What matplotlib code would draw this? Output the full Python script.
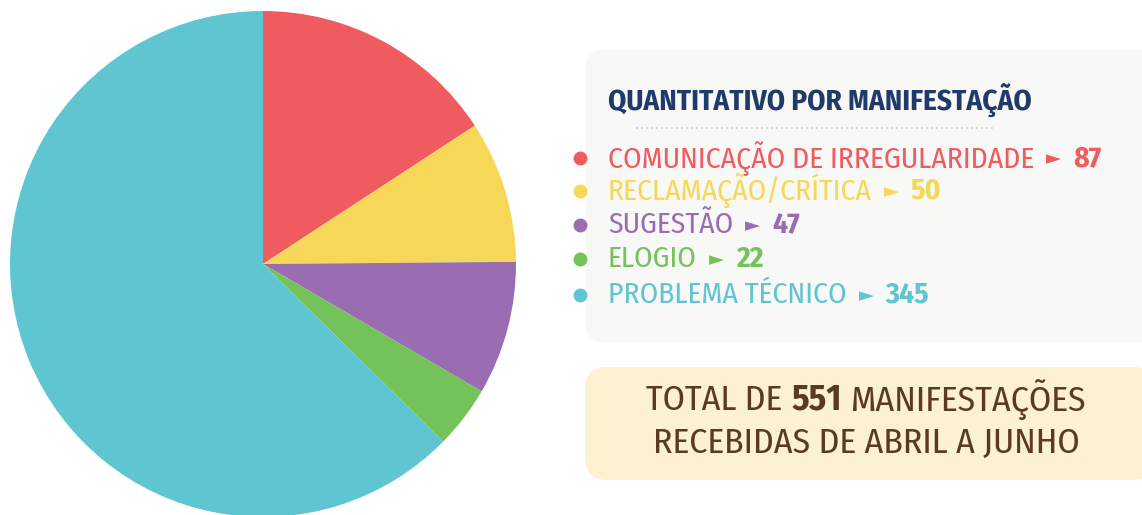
import matplotlib
matplotlib.use("Agg")
import matplotlib.pyplot as plt
from matplotlib.patches import FancyBboxPatch
from matplotlib import font_manager

categories = ["COMUNICAÇÃO DE IRREGULARIDADE", "RECLAMAÇÃO/CRÍTICA", "SUGESTÃO", "ELOGIO", "PROBLEMA TÉCNICO"]
values = [87, 50, 47, 22, 345]
colors = ["#ef5b5f", "#f7d757", "#9a6db3", "#74c35a", "#5fc6d1"]
title = "QUANTITATIVO POR MANIFESTAÇÃO"
total_line1 = ["TOTAL DE", "551", "MANIFESTAÇÕES"]
total_line2 = "RECEBIDAS DE ABRIL A JUNHO"

available = {f.name for f in font_manager.fontManager.ttflist}
prefs = ["Fira Sans Condensed", "Encode Sans Condensed", "Barlow Semi Condensed",
         "IBM Plex Sans Condensed", "Roboto Condensed", "Open Sans Condensed", "DejaVu Sans"]
main_font = next(f for f in prefs if f in available)
FONT = [main_font, "DejaVu Sans"]
plt.rcParams['font.family'] = FONT

W, H = 1142, 515
fig = plt.figure(figsize=(W / 100, H / 100), dpi=100)
fig.patch.set_facecolor("white")

bg = fig.add_axes([0, 0, 1, 1], zorder=0)
bg.set_xlim(0, W)
bg.set_ylim(H, 0)
bg.axis("off")

cx, cy, r = 263, 264, 253
pax = fig.add_axes([(cx - r) / W, (H - cy - r) / H, 2 * r / W, 2 * r / H], zorder=1)
pax.pie(values, colors=colors, startangle=90, counterclock=False,
        wedgeprops=dict(linewidth=0))
pax.set_xlim(-1, 1)
pax.set_ylim(-1, 1)
pax.set_aspect("equal")
pax.axis("off")

fig.canvas.draw()
renderer = fig.canvas.get_renderer()

def width_px(t):
    return t.get_window_extent(renderer=renderer).width

def fit(t, target, size):
    w = width_px(t)
    t.set_fontsize(size * target / w)

# legend box
bg.add_patch(FancyBboxPatch((586, 50), 570, 292, boxstyle="round,pad=0,rounding_size=18",
                            facecolor="#f8f8f7", edgecolor="none"))
tt = bg.text(608, 100, title, fontsize=18, fontweight="bold", color="#1f3a6b",
             ha="left", va="center")
fit(tt, 424, 18)
bg.plot([636, 995], [128, 128], linestyle=(0, (1, 2)), color="#c9c9c9", linewidth=1.2)

ys = [158, 191, 225, 259, 295]
label_size = None
for i, (cat, val, col, y) in enumerate(zip(categories, values, colors, ys)):
    bg.plot([580], [y], marker="o", markersize=10, color=col, markeredgewidth=0)
    t = bg.text(608, y, cat, fontsize=17, color=col, ha="left", va="center")
    if i == 0:
        fit(t, 425, 17)
        label_size = t.get_fontsize()
    else:
        t.set_fontsize(label_size)
    w = width_px(t)
    x2 = 608 + w + 12
    t2 = bg.text(x2, y + 1, "►", fontsize=14, color=col, ha="left", va="center",
                 family=["DejaVu Sans"])
    w2 = width_px(t2)
    bg.text(x2 + w2 + 12, y, str(val), fontsize=label_size, fontweight="bold", color=col,
            ha="left", va="center")

# total box
bg.add_patch(FancyBboxPatch((585, 367), 570, 113, boxstyle="round,pad=0,rounding_size=22",
                            facecolor="#fcf2d2", edgecolor="none"))
brown = "#5b3a22"
probe = bg.text(0, 0, total_line2, fontsize=23)
fit(probe, 428, 23)
tsize = probe.get_fontsize()
probe.remove()

parts = []
for i, p in enumerate(total_line1):
    parts.append(bg.text(0, 400, p, fontsize=tsize, color=brown,
                         fontweight="bold" if i == 1 else "normal",
                         ha="left", va="center"))
sp = bg.text(0, 0, "A A", fontsize=tsize)
sp2 = bg.text(0, 0, "AA", fontsize=tsize)
space = width_px(sp) - width_px(sp2)
sp.remove(); sp2.remove()
widths = [width_px(p) for p in parts]
total_w = sum(widths) + space * (len(parts) - 1)
xc = 866
x = xc - total_w / 2
for p, w in zip(parts, widths):
    p.set_x(x)
    x += w + space
bg.text(xc, 443, total_line2, fontsize=tsize, color=brown, ha="center", va="center")

fig.savefig("out.png", dpi=100, facecolor="white")
